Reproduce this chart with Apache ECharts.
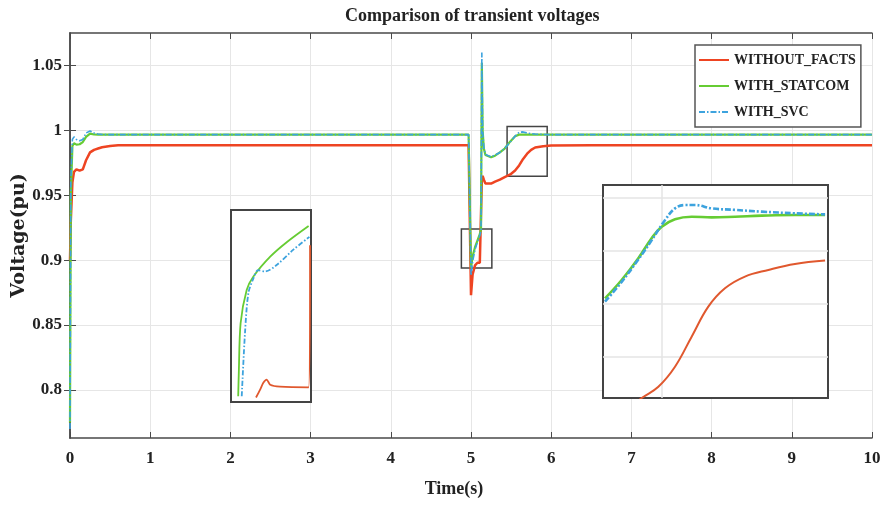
<!DOCTYPE html>
<html>
<head>
<meta charset="utf-8">
<script src="https://cdn.jsdelivr.net/npm/echarts@6/dist/echarts.min.js"></script>
<style>html,body{margin:0;padding:0;background:#fff}#c{width:882px;height:505px}</style>
</head>
<body>
<div id="c"></div>
<script>
// ---------- main data ----------
const time = [0, 0.01, 0.03, 0.05, 0.08, 0.12, 0.16, 0.2, 0.25, 0.3, 0.35, 0.4, 0.5, 0.6, 0.8, 1, 2, 3, 4, 4.97, 4.99, 5.0, 5.02, 5.05, 5.08, 5.11, 5.125, 5.135, 5.145, 5.16, 5.18, 5.2, 5.25, 5.3, 5.36, 5.42, 5.49, 5.55, 5.6, 5.65, 5.7, 5.75, 5.8, 5.9, 6, 6.5, 7, 8, 9, 10];
const withoutFacts = [0.9, 0.93, 0.96, 0.968, 0.970, 0.969, 0.970, 0.977, 0.983, 0.985, 0.986, 0.987, 0.988, 0.9885, 0.9885, 0.9885, 0.9885, 0.9885, 0.9885, 0.9885, 0.9885, 0.873, 0.889, 0.896, 0.898, 0.898, 0.899, 0.962, 0.965, 0.962, 0.959, 0.958, 0.959, 0.9605, 0.962, 0.964, 0.966, 0.969, 0.973, 0.978, 0.982, 0.985, 0.9868, 0.9878, 0.9883, 0.9885, 0.9885, 0.9885, 0.9885, 0.9885];
const withStatcom = [0.775, 0.95, 0.988, 0.990, 0.989, 0.9893, 0.991, 0.995, 0.9975, 0.9968, 0.9967, 0.9967, 0.9967, 0.9967, 0.9967, 0.9967, 0.9967, 0.9967, 0.9967, 0.9967, 0.9967, 0.894, 0.903, 0.910, 0.915, 0.920, 0.924, 1.052, 1.0, 0.986, 0.981, 0.9795, 0.9792, 0.9805, 0.983, 0.986, 0.9915, 0.9955, 0.9967, 0.9968, 0.9967, 0.9967, 0.9967, 0.9967, 0.9967, 0.9967, 0.9967, 0.9967, 0.9967, 0.9967];
const withSvc = [0.77, 0.96, 0.993, 0.995, 0.993, 0.992, 0.993, 0.998, 0.9995, 0.998, 0.9972, 0.9968, 0.9967, 0.9967, 0.9967, 0.9967, 0.9967, 0.9967, 0.9967, 0.9967, 0.9967, 0.888, 0.899, 0.908, 0.914, 0.919, 0.923, 1.06, 1.0, 0.987, 0.9815, 0.98, 0.9795, 0.981, 0.983, 0.986, 0.991, 0.9955, 0.9985, 0.9988, 0.998, 0.9975, 0.9972, 0.9968, 0.9967, 0.9967, 0.9967, 0.9967, 0.9967, 0.9967];

const seriesNames = ['WITHOUT_FACTS', 'WITH_STATCOM', 'WITH_SVC'];
const xTicks = [0, 10, 1];               // min, max, interval
const yRange = [0.763, 1.075];
const yTickValues = [0.8, 0.85, 0.9, 0.95, 1, 1.05];

// zoom windows (small boxes on the main plot = ranges of the insets)
const boxA = { t: [4.88, 5.26], v: [0.894, 0.924] };
const boxB = { t: [5.45, 5.95], v: [0.9646, 1.003] };

// ---------- inset A (detail near fault start) ----------
const insetA_statcomT = [4.9142, 4.917, 4.9256, 4.9545, 4.9864, 5.0662, 5.146, 5.2486];
const insetA_statcomV = [0.8949, 0.8985, 0.9063, 0.9115, 0.9136, 0.9167, 0.919, 0.9215];
const insetA_svcT = [4.931, 4.9465, 4.9625, 4.9864, 5.0092, 5.0415, 5.0966, 5.1764, 5.2524];
const insetA_svcV = [0.8949, 0.9048, 0.911, 0.9133, 0.9146, 0.9144, 0.9154, 0.9178, 0.9198];
const insetA_withoutT = [4.9988, 5.0178, 5.0335, 5.0495, 5.0662, 5.1128, 5.2486, 5.2555];
const insetA_withoutV = [0.8947, 0.8959, 0.897, 0.8975, 0.8967, 0.8964, 0.8963, 0.9185];

// ---------- inset B (detail of recovery) ----------
const insetB_statcomT = [5.4545, 5.4915, 5.5285, 5.558, 5.5805, 5.61, 5.647, 5.6915, 5.7435, 5.8025, 5.8765, 5.9435];
const insetB_statcomV = [0.98257, 0.98587, 0.98979, 0.9934, 0.99547, 0.99682, 0.99728, 0.99716, 0.99728, 0.99747, 0.99759, 0.99759];
const insetB_svcT = [5.4545, 5.4915, 5.5285, 5.558, 5.588, 5.61, 5.632, 5.6545, 5.6915, 5.7435, 5.8025, 5.8765, 5.9435];
const insetB_svcV = [0.98196, 0.98553, 0.98956, 0.99302, 0.9967, 0.99878, 0.99939, 0.99939, 0.99878, 0.99851, 0.9982, 0.99789, 0.9977];
const insetB_withoutT = [5.52, 5.536, 5.573, 5.61, 5.647, 5.684, 5.721, 5.7655, 5.8175, 5.8765, 5.9435];
const insetB_withoutV = [0.9635, 0.9646, 0.96663, 0.97024, 0.97566, 0.98107, 0.98438, 0.98649, 0.98768, 0.98875, 0.98937];
const insetB_gridV = [0.97196, 0.98166, 0.99118, 1.00062];
const insetB_gridT = [5.58];

const colors = { red: '#ee4422', green: '#66cc33', blue: '#3da3de', redInset: '#e0582e' };
const serif = 'Liberation Serif';
const axisCol = '#4a4a4a';

function pairs(xs, ys) { return xs.map((x, i) => [x, ys[i]]); }

const chart = echarts.init(document.getElementById('c'), null, { renderer: 'canvas' });

const mainX = {
  type: 'value', gridIndex: 0, min: xTicks[0], max: xTicks[1], interval: xTicks[2],
  axisLine: { lineStyle: { color: axisCol, width: 1.5 } },
  axisTick: { inside: true, length: 6, lineStyle: { color: axisCol } },
  splitLine: { show: true, lineStyle: { color: '#e6e6e6', width: 1 } },
  axisLabel: { margin: 12, fontFamily: serif, fontWeight: 'bold', fontSize: 17, color: '#222' },
  name: 'Time(s)', nameLocation: 'middle', nameGap: 42,
  nameTextStyle: { fontFamily: serif, fontWeight: 'bold', fontSize: 18, color: '#222', padding: [0, 34, 0, 0] }
};
const topX = {
  type: 'value', gridIndex: 0, position: 'top', min: xTicks[0], max: xTicks[1], interval: xTicks[2],
  axisLine: { lineStyle: { color: axisCol, width: 1.5 } },
  axisTick: { inside: true, length: 6, lineStyle: { color: axisCol } },
  splitLine: { show: false }, axisLabel: { show: false }
};
const mainY = {
  type: 'value', gridIndex: 0, min: yRange[0], max: yRange[1],
  axisLine: { show: true, lineStyle: { color: axisCol, width: 1.5 } },
  axisTick: { show: true, inside: true, length: 6, customValues: yTickValues, lineStyle: { color: axisCol } },
  splitLine: { show: true, lineStyle: { color: '#e6e6e6', width: 1 } },
  axisLabel: { customValues: yTickValues, margin: 8, fontFamily: serif, fontWeight: 'bold', fontSize: 17, color: '#222',
    formatter: v => String(Math.round(v * 100) / 100) },
  name: 'Voltage(pu)', nameLocation: 'middle', nameGap: 41, nameMoveOverlap: false,
  nameTextStyle: { fontFamily: 'DejaVu Serif', fontWeight: 'bold', fontSize: 19, color: '#222' }
};
const rightY = {
  type: 'value', gridIndex: 0, position: 'right', min: yRange[0], max: yRange[1],
  axisLine: { show: true, lineStyle: { color: axisCol, width: 1.5 } },
  axisTick: { show: true, inside: true, length: 6, customValues: yTickValues, lineStyle: { color: axisCol } },
  splitLine: { show: false }, axisLabel: { show: false }
};

function insetAxisX(grid, box, gridT) {
  return {
    type: 'value', gridIndex: grid, min: box.t[0], max: box.t[1], z: 6,
    axisLine: { show: false }, axisLabel: { show: false },
    axisTick: { show: false, customValues: gridT || [] },
    splitLine: { show: !!gridT, lineStyle: { color: '#e4e4e4', width: 1.5 } }
  };
}
function insetAxisY(grid, box, gridV) {
  return {
    type: 'value', gridIndex: grid, min: box.v[0], max: box.v[1], z: 6,
    axisLine: { show: false }, axisLabel: { show: false },
    axisTick: { show: false, customValues: gridV || [] },
    splitLine: { show: !!gridV, lineStyle: { color: '#e4e4e4', width: 1.5 } }
  };
}

const boxStyle = { color: 'rgba(0,0,0,0)', borderColor: '#444', borderWidth: 1.5 };

const option = {
  animation: false,
  backgroundColor: '#fff',
  title: {
    text: 'Comparison of transient voltages', left: 340, top: 2,
    textStyle: { fontFamily: serif, fontWeight: 'bold', fontSize: 18, color: '#222' }
  },
  legend: {
    orient: 'vertical', left: 695, top: 45,
    data: seriesNames,
    itemWidth: 30, itemHeight: 14, itemGap: 12,
    padding: [8, 5, 8, 3],
    itemStyle: { opacity: 0 },
    backgroundColor: '#fff', borderColor: '#555', borderWidth: 1.5,
    textStyle: { fontFamily: serif, fontWeight: 'bold', fontSize: 14, color: '#222' }
  },
  grid: [
    { left: 70, right: 10, top: 33, bottom: 67, outerBoundsMode: 'none', containLabel: false },
    { left: 231, top: 210, width: 80, height: 192, show: true, z: 5, outerBoundsMode: 'none', backgroundColor: '#fff', borderColor: '#444', borderWidth: 2 },
    { left: 603, top: 185, width: 225, height: 213, show: true, z: 5, outerBoundsMode: 'none', backgroundColor: '#fff', borderColor: '#444', borderWidth: 2 }
  ],
  xAxis: [mainX, topX, insetAxisX(1, boxA), insetAxisX(2, boxB, insetB_gridT)],
  yAxis: [mainY, rightY, insetAxisY(1, boxA), insetAxisY(2, boxB, insetB_gridV)],
  series: [
    { name: seriesNames[0], type: 'line', xAxisIndex: 0, yAxisIndex: 0, data: pairs(time, withoutFacts),
      symbol: 'none', color: colors.red, lineStyle: { color: colors.red, width: 2.5 },
      markArea: { silent: true, itemStyle: boxStyle, data: [
        [{ coord: [boxA.t[0], boxA.v[0]] }, { coord: [boxA.t[1], boxA.v[1]] }],
        [{ coord: [boxB.t[0], boxB.v[0]] }, { coord: [boxB.t[1], boxB.v[1]] }]
      ] } },
    { name: seriesNames[1], type: 'line', xAxisIndex: 0, yAxisIndex: 0, data: pairs(time, withStatcom),
      symbol: 'none', color: colors.green, lineStyle: { color: colors.green, width: 2.2 } },
    { name: seriesNames[2], type: 'line', xAxisIndex: 0, yAxisIndex: 0, data: pairs(time, withSvc),
      symbol: 'none', color: colors.blue, lineStyle: { color: colors.blue, width: 1.6, type: [6, 2, 1.5, 2] } },

    { name: seriesNames[0], type: 'line', xAxisIndex: 2, yAxisIndex: 2, z: 7, data: pairs(insetA_withoutT, insetA_withoutV),
      symbol: 'none', smooth: 0.2, lineStyle: { color: colors.redInset, width: 1.8 } },
    { name: seriesNames[1], type: 'line', xAxisIndex: 2, yAxisIndex: 2, z: 7, data: pairs(insetA_statcomT, insetA_statcomV),
      symbol: 'none', smooth: 0.3, lineStyle: { color: colors.green, width: 1.8 } },
    { name: seriesNames[2], type: 'line', xAxisIndex: 2, yAxisIndex: 2, z: 7, data: pairs(insetA_svcT, insetA_svcV),
      symbol: 'none', smooth: 0.3, lineStyle: { color: colors.blue, width: 1.8, type: [5, 2, 1.5, 2] } },

    { name: seriesNames[0], type: 'line', xAxisIndex: 3, yAxisIndex: 3, z: 7, data: pairs(insetB_withoutT, insetB_withoutV),
      symbol: 'none', smooth: 0.4, lineStyle: { color: colors.redInset, width: 2 } },
    { name: seriesNames[1], type: 'line', xAxisIndex: 3, yAxisIndex: 3, z: 7, data: pairs(insetB_statcomT, insetB_statcomV),
      symbol: 'none', smooth: 0.4, lineStyle: { color: colors.green, width: 2.6 } },
    { name: seriesNames[2], type: 'line', xAxisIndex: 3, yAxisIndex: 3, z: 7, data: pairs(insetB_svcT, insetB_svcV),
      symbol: 'none', smooth: 0.4, lineStyle: { color: colors.blue, width: 2.6, type: [6, 2, 2, 2] } }
  ]
};
chart.setOption(option);
</script>
</body>
</html>
